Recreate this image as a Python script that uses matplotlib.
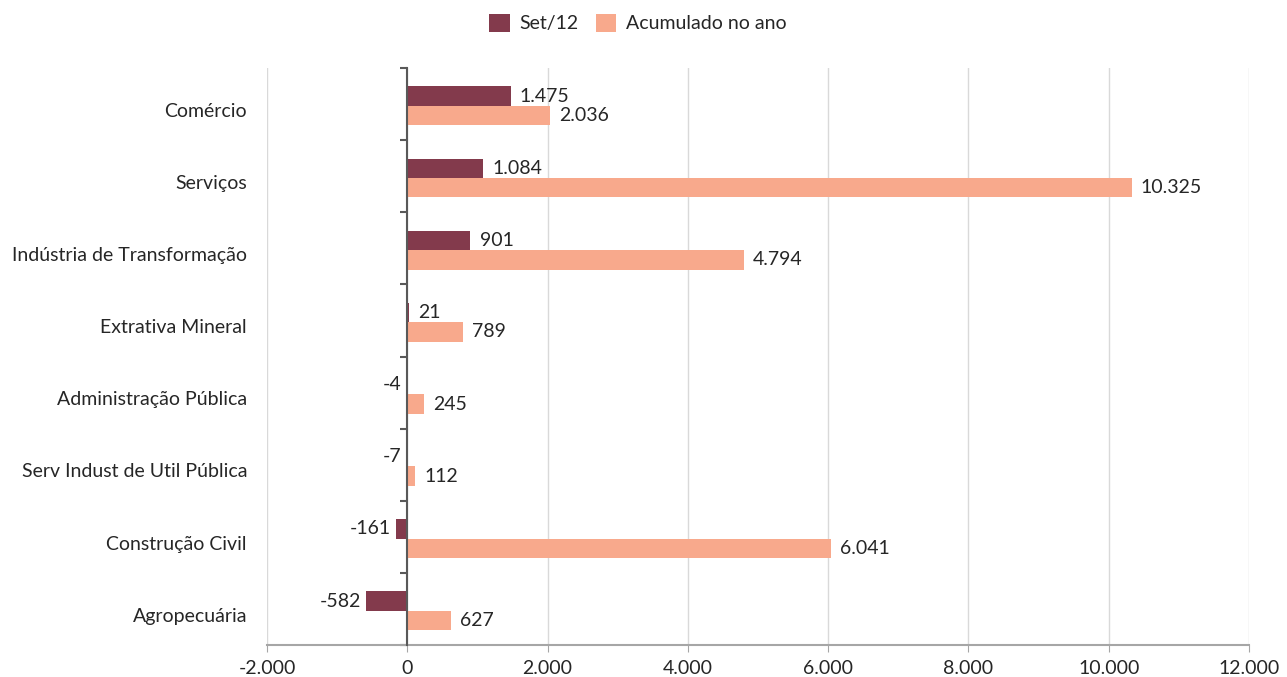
import matplotlib
matplotlib.use("Agg")
import matplotlib.pyplot as plt
import matplotlib.transforms as mtransforms
import numpy as np

categories = ["Comércio", "Serviços", "Indústria de Transformação", "Extrativa Mineral",
              "Administração Pública", "Serv Indust de Util Pública", "Construção Civil", "Agropecuária"]
set12 = [1475, 1084, 901, 21, -4, -7, -161, -582]
acumulado = [2036, 10325, 4794, 789, 245, 112, 6041, 627]
series_names = ["Set/12", "Acumulado no ano"]
xticks = [-2000, 0, 2000, 4000, 6000, 8000, 10000, 12000]

c_set = "#833A4C"
c_acc = "#F8A98C"
txt = "#262626"
fs = 14

plt.rcParams["font.family"] = ["Lato", "DejaVu Sans"]

fig = plt.figure(figsize=(12.87, 6.77), dpi=100)
ax = fig.add_axes([267/1287, 1-645/677, (1249-267)/1287, (645-68)/677])

y = np.arange(len(categories))
h = 0.27
b1 = ax.barh(y - h/2 + 0.025, set12, height=h, color=c_set, label=series_names[0], zorder=3)
b2 = ax.barh(y + h/2 + 0.025, acumulado, height=h, color=c_acc, label=series_names[1], zorder=3)

def fmt(v):
    return f"{v:,}".replace(",", ".")

for bars, vals in ((b1, set12), (b2, acumulado)):
    for rect, v in zip(bars, vals):
        yc = rect.get_y() + rect.get_height()/2
        if v >= 0:
            ax.annotate(fmt(v), (v, yc), xytext=(6.5, 0), textcoords="offset points",
                        ha="left", va="center", fontsize=fs, color=txt)
        else:
            ax.annotate(fmt(v), (v, yc), xytext=(-4, 0), textcoords="offset points",
                        ha="right", va="center", fontsize=fs, color=txt)

ax.set_xlim(xticks[0], xticks[-1])
ax.set_ylim(len(categories) - 0.5, -0.5)
ax.set_xticks(xticks)
ax.set_xticklabels([fmt(t) for t in xticks], fontsize=fs, color=txt)
ax.tick_params(axis="x", length=5, color="#a6a6a6", pad=6)
ax.grid(axis="x", color="#d9d9d9", linewidth=1, zorder=0)

for s in ("top", "right"):
    ax.spines[s].set_visible(False)
ax.spines["bottom"].set_color("#a6a6a6")
ax.spines["bottom"].set_linewidth(1.5)
ax.spines["left"].set_position(("data", 0))
ax.spines["left"].set_color("#595959")
ax.spines["left"].set_linewidth(1.5)
ax.spines["left"].set_zorder(4)

ax.set_yticks(y)
ax.set_yticklabels([])
ax.tick_params(axis="y", which="major", length=0)
ax.set_yticks(np.arange(-0.5, len(categories), 1.0), minor=True)
ax.tick_params(axis="y", which="minor", length=5, width=1.5, color="#595959", direction="out")

trans = mtransforms.blended_transform_factory(ax.transAxes, ax.transData)
for yi, cat in zip(y, categories):
    ax.text(-20/982, yi + 0.1, cat, transform=trans, ha="right", va="center",
            fontsize=fs, color=txt)

leg = fig.legend(handles=[b1, b2], loc="center", bbox_to_anchor=(638/1287, 1-23/677),
                 ncol=2, frameon=False, fontsize=fs, handlelength=1.05, handleheight=1.05,
                 columnspacing=0.9, handletextpad=0.5)
for t in leg.get_texts():
    t.set_color(txt)

fig.savefig("out.png", dpi=100)
